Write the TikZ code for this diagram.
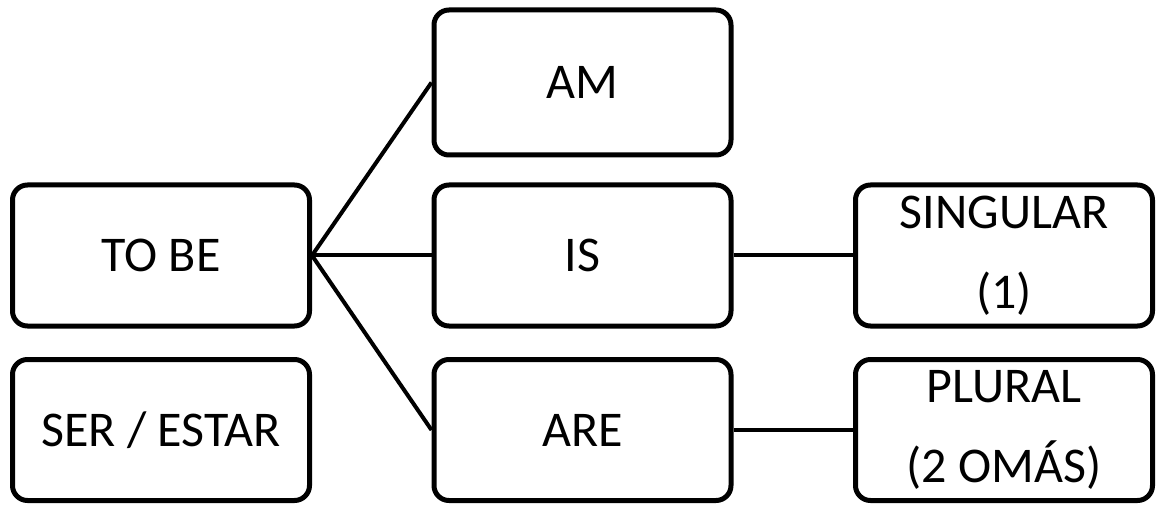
\documentclass[tikz,border=0pt]{standalone}
\usepackage{fontspec}
\setmainfont{Carlito}
\begin{document}
\begin{tikzpicture}[x=1pt,y=-1pt]
    \tikzstyle{box}=[rectangle,draw=black,line width=5pt,rounded corners=15pt,
                     minimum width=297pt,minimum height=141pt,inner sep=0pt,
                     align=center,font=\fontsize{50}{80}\selectfont]
    \tikzstyle{link}=[draw=black,line width=4pt]
    \useasboundingbox (0,0) rectangle (1157,505);

    \node[box] (tobe)   at (161,255.5)  {TO BE};
    \node[box] (ser)    at (161,430)    {SER / ESTAR};
    \node[box,minimum height=145pt] (am) at (582.5,82.5) {AM};
    \node[box] (is)     at (582.5,255.5){IS};
    \node[box] (are)    at (582.5,430)  {ARE};
    \node[box] (sing)   at (1004,255.5) {SINGULAR\\(1)};
    \node[box] (plural) at (1004,430)   {PLURAL\\(2 OMÁS)};

    \draw[link] (tobe.east) -- (am.west);
    \draw[link] (tobe.east) -- (is.west);
    \draw[link] (tobe.east) -- (are.west);
    \draw[link] (is.east)   -- (sing.west);
    \draw[link] (are.east)  -- (plural.west);

\end{tikzpicture}
\end{document}
